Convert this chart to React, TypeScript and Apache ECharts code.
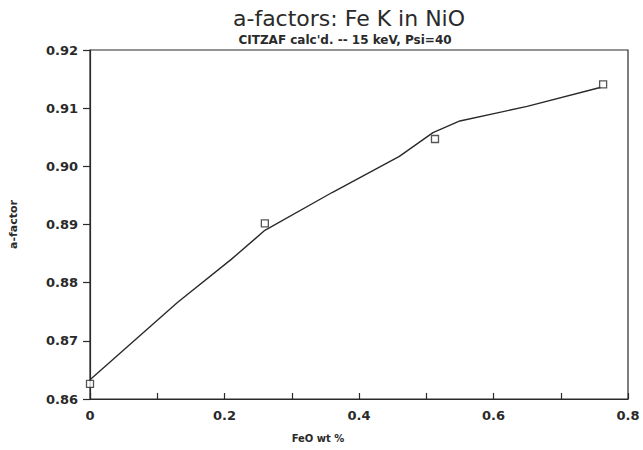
import React, { useEffect, useRef } from "react";
import * as echarts from "echarts";

const pointX = [0, 0.26, 0.513, 0.763];
const pointY = [0.8626, 0.8902, 0.9047, 0.9141];

const fitX = [0, 0.13, 0.21, 0.26, 0.36, 0.46, 0.51, 0.55, 0.65, 0.76];
const fitY = [0.8633, 0.8766, 0.884, 0.889, 0.8955, 0.9017, 0.9058, 0.9078, 0.9103, 0.9136];

const titleText = "a-factors: Fe K in NiO";
const subtitleText = "CITZAF calc'd. -- 15 keV, Psi=40";
const xName = "FeO wt %";
const yName = "a-factor";

const INK = "#2a2a2a";
const FONT = "DejaVu Sans";

export default function App() {
  const ref = useRef<HTMLDivElement>(null);
  useEffect(() => {
    if (!ref.current) return;
    const chart = echarts.init(ref.current, null, { renderer: "svg" });
    chart.setOption({
      animation: false,
      backgroundColor: "#ffffff",
      title: [
        {
          text: titleText,
          left: 344,
          top: 2,
          textAlign: "center",
          textStyle: { fontFamily: FONT, fontSize: 22, fontWeight: "normal", color: INK },
        },
        {
          text: subtitleText,
          left: 340,
          top: 29,
          textAlign: "center",
          textStyle: { fontFamily: FONT, fontSize: 12, fontWeight: "bold", color: INK },
        },
      ],
      grid: {
        left: 90,
        right: 15,
        top: 50,
        bottom: 51,
        show: true,
        borderColor: INK,
        borderWidth: 1.2,
        backgroundColor: "transparent",
      },
      xAxis: {
        type: "value",
        min: 0,
        max: 0.8,
        interval: 0.1,
        name: xName,
        nameLocation: "middle",
        nameGap: 34,
        nameTextStyle: {
          fontFamily: FONT,
          fontSize: 10,
          fontWeight: "bold",
          color: INK,
          padding: [0, 82, 0, 0],
        },
        axisLine: { show: true, lineStyle: { color: INK, width: 1.2 } },
        axisTick: { show: true, inside: true, length: 6, lineStyle: { color: INK, width: 1.2 } },
        splitLine: { show: false },
        axisLabel: {
          margin: 10,
          fontFamily: FONT,
          fontSize: 13,
          fontWeight: "bold",
          color: INK,
          formatter: (v: number) => {
            const k = Math.round(v * 10);
            if (k % 2 !== 0) return "";
            return k === 0 ? "0" : (k / 10).toFixed(1);
          },
        },
      },
      yAxis: {
        type: "value",
        min: 0.86,
        max: 0.92,
        interval: 0.01,
        name: yName,
        nameLocation: "middle",
        nameGap: 71,
        nameRotate: 90,
        nameTextStyle: { fontFamily: FONT, fontSize: 11, fontWeight: "bold", color: INK },
        axisLine: { show: true, lineStyle: { color: INK, width: 1.2 } },
        axisTick: { show: true, inside: false, length: 7, lineStyle: { color: INK, width: 1.2 } },
        splitLine: { show: false },
        axisLabel: {
          margin: 12,
          fontFamily: FONT,
          fontSize: 13,
          fontWeight: "bold",
          color: INK,
          formatter: (v: number) => v.toFixed(2),
        },
      },
      series: [
        {
          type: "line",
          name: "fit",
          data: fitX.map((x, i) => [x, fitY[i]]),
          showSymbol: false,
          symbol: "none",
          lineStyle: { color: INK, width: 1.4 },
          z: 2,
        },
        {
          type: "scatter",
          name: "calc",
          data: pointX.map((x, i) => [x, pointY[i]]),
          symbol: "rect",
          symbolSize: 7,
          itemStyle: { color: "#ffffff", borderColor: INK, borderWidth: 1.3 },
          z: 3,
        },
      ],
    });
    return () => chart.dispose();
  }, []);
  return (
    <div
      ref={ref}
      style={{ position: "fixed", left: 0, top: 0, width: 643, height: 450, background: "#fff" }}
    />
  );
}
